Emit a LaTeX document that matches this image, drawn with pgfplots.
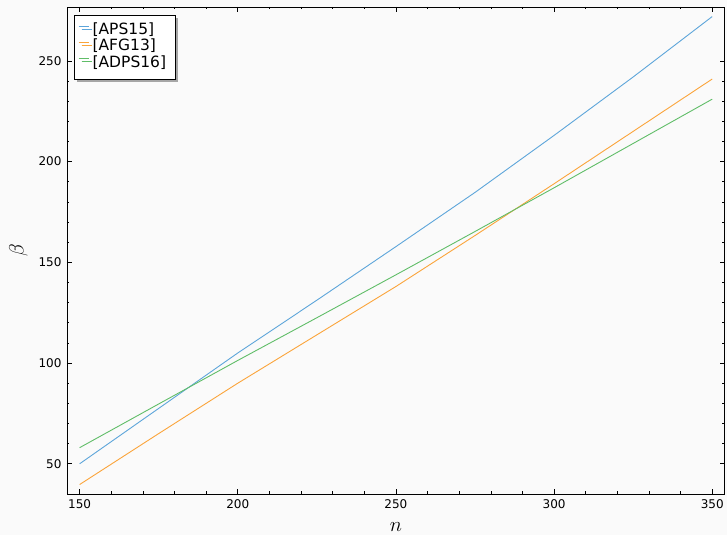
\documentclass[border=0pt]{standalone}
\usepackage{pgfplots}
\pgfplotsset{compat=1.18}
\usepackage{fontspec}
\setmainfont{DejaVu Sans}
\usetikzlibrary{shadows}
\definecolor{bg}{HTML}{FAFAFA}
\definecolor{cb}{HTML}{5DA5DA}
\definecolor{co}{HTML}{FAA43A}
\definecolor{cg}{HTML}{60BD68}
\begin{document}
\begin{tikzpicture}
\fill[bg] (-67pt,-41pt) rectangle (660pt,494pt);
\begin{axis}[
  scale only axis, width=658pt, height=487pt,
  xmin=146, xmax=354, ymin=35.05, ymax=276.75,
  xtick={150,200,...,350}, ytick={50,100,...,250},
  minor x tick num=4, minor y tick num=4,
  tick align=inside, major tick length=5pt, minor tick length=2.5pt,
  tick style={black, line width=0.6pt},
  axis line style={black, line width=0.8pt},
  ticklabel style={font=\fontsize{12}{14}\selectfont},
  /pgf/number format/assume math mode=true,
  xticklabel style={yshift=-2pt},
  yticklabel style={xshift=-2pt},
  xlabel={$n$}, ylabel={$\beta$},
  xlabel style={font=\fontsize{20}{22}\selectfont, at={(axis description cs:0.5,0)}, anchor=base, yshift=-37.7pt},
  ylabel style={font=\fontsize{20}{22}\selectfont, at={(axis description cs:-0.0737,0.5)}, anchor=center},
  legend style={at={(axis description cs:0,1)}, anchor=north west, xshift=7pt, yshift=-8pt,
    draw=black, fill=white, line width=0.8pt,
    font=\fontsize{15.5}{16}\selectfont,
    nodes={inner xsep=1.2pt, inner ysep=1.1pt, text height=10.8pt, text depth=3.2pt, anchor=west},
    column sep=2.3pt,
    drop shadow={shadow xshift=3pt, shadow yshift=-3pt, fill=black!35, opacity=1},
    inner xsep=3.8pt, inner ysep=7.5pt},
  legend cell align=left,
  legend image code/.code={\draw[#1, line width=0.9pt] (0pt,4.8pt) -- (10pt,4.8pt);},
]
\addplot[cb, line width=0.9pt] coordinates {(150,50)(175,77.5)(200,105)(225,131.2)(250,157.8)(275,184.7)(300,213)(325,242)(350,272)};
\addlegendentry{[APS15]}
\addplot[co, line width=0.9pt] coordinates {(150,39.7)(175,65)(200,90)(225,114)(250,138)(275,163.3)(300,189)(325,215)(350,241)};
\addlegendentry{[AFG13]}
\addplot[cg, line width=0.9pt] coordinates {(150,58)(175,79.7)(200,101.3)(225,122.5)(250,143.8)(275,165.3)(300,187)(325,209)(350,231)};
\addlegendentry{[ADPS16]\hspace*{4pt}}
\end{axis}
\end{tikzpicture}
\end{document}
